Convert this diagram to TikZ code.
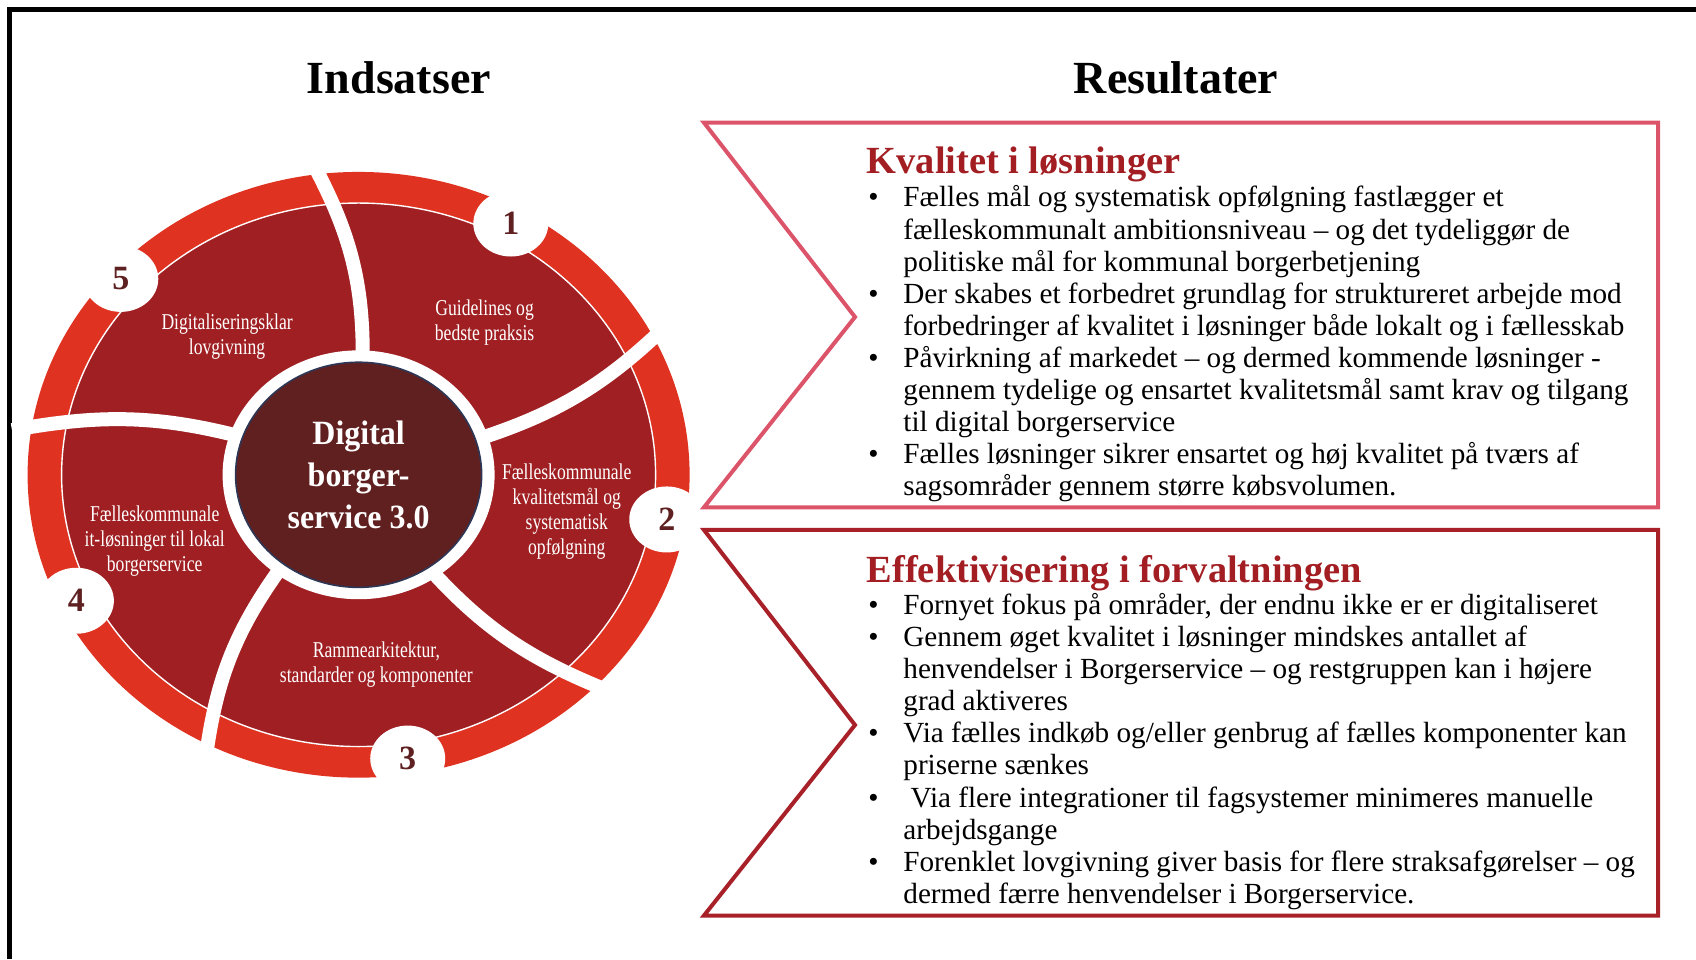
\documentclass[tikz,border=0pt]{standalone}
\usepackage{fontspec}
\setmainfont{Liberation Serif}
\newfontfamily\wheelfont[FakeStretch=0.78]{Liberation Serif}
\newfontfamily\hubfont[FakeStretch=0.94]{Liberation Serif}
\usepackage{tikz}
\usetikzlibrary{shapes.geometric,positioning}

\definecolor{ringred}{RGB}{223,50,33}
\definecolor{sectorred}{RGB}{160,31,34}
\definecolor{hubred}{RGB}{96,32,32}
\definecolor{hubedge}{RGB}{45,55,85}
\definecolor{numbrown}{RGB}{94,32,32}
\definecolor{qualityline}{RGB}{220,84,106}
\definecolor{effectline}{RGB}{168,32,40}
\definecolor{titlered}{RGB}{163,30,35}

\begin{document}
\begin{tikzpicture}[x=0.5pt,y=0.5pt]
  \tikzstyle{heading}=[font=\fontsize{23}{26}\selectfont\bfseries, inner sep=0pt, anchor=base]
  \tikzstyle{paneltitle}=[font=\fontsize{19.2}{22}\selectfont\bfseries, text=titlered, inner sep=0pt, anchor=base west]
  \tikzstyle{panelbody}=[font=\fontsize{14.6}{16.05}\selectfont, inner sep=0pt, anchor=base west]
  \tikzstyle{wheellabel}=[font=\wheelfont\fontsize{11.3}{12.45}\selectfont, text=white, align=center, inner sep=0pt]
  \tikzstyle{hub}=[font=\hubfont\fontsize{17}{21}\selectfont\bfseries, text=white, align=center, inner sep=0pt]
  \tikzstyle{numdot}=[ellipse, fill=white, minimum width=37.5pt, minimum height=33pt, inner sep=0pt, text=numbrown, font=\fontsize{17}{20}\selectfont\bfseries]
  \tikzstyle{gap}=[white, line width=7pt]
  \tikzstyle{chevron}=[line width=2pt, line join=miter]

  \useasboundingbox (0,0) rectangle (1696,959);
  \draw[line width=2.6pt] (9.5,0) -- (9.5,949.5) -- (1696,949.5);

  \node[heading] (indsatser) at (399,865) {Indsatser};
  \node[heading] (resultater) at (1176,865) {Resultater};

  % the wheel
  \begin{scope}[shift={(358.6,484.2)}, yscale=0.915]
    \fill[ringred] (0,0) circle (331);
    \fill[sectorred] (0,0) circle (297);
    \draw[white, line width=0.7pt] (0,0) circle (297);
    \foreach \a/\b in {88/98, 18/28, -56/-43, -128/-116, 160/172}
      \draw[gap] (\a:110) to[bend right=14] (\b:350);
    \fill[white] (0,0) circle (136);
    \fill[hubred] (0,0) circle (123);
    \draw[hubedge, line width=0.8pt] (0,0) circle (123);
    \node[numdot] (n1) at (61:314) {1};
    \node[numdot] (n2) at (-9:312) {2};
    \node[numdot] (n3) at (-81:314) {3};
    \node[numdot] (n4) at (-154:314) {4};
    \node[numdot] (n5) at (138:320) {5};
  \end{scope}

  \node[hub] (hubtext) at (358.6,484) {Digital\\borger-\\service 3.0};
  \node[wheellabel] (guide) at (484.6,636.1) {Guidelines og\\bedste praksis};
  \node[wheellabel] (law) at (227.1,622.6) {Digitaliseringsklar\\lovgivning};
  \node[wheellabel] (goals) at (566.8,447.4) {Fælleskommunale\\kvalitetsmål og\\systematisk\\opfølgning};
  \node[wheellabel] (itsol) at (154.7,417.7) {Fælleskommunale\\it-løsninger til lokal\\borgerservice};
  \node[wheellabel] (arch) at (376.4,294.4) {Rammearkitektur,\\standarder og komponenter};

  % result panels
  \coordinate (q-tl) at (704,836.3);
  \coordinate (q-tr) at (1658,836.3);
  \coordinate (q-br) at (1658,451.7);
  \coordinate (q-bl) at (704,451.7);
  \coordinate (q-tip) at (855,642);
  \draw[chevron, qualityline] (q-tl) -- (q-tr) -- (q-br) -- (q-bl) -- (q-tip) -- cycle;

  \coordinate (e-tl) at (704,429);
  \coordinate (e-tr) at (1658,429);
  \coordinate (e-br) at (1658,43.5);
  \coordinate (e-bl) at (704,43.5);
  \coordinate (e-tip) at (855,234);
  \draw[chevron, effectline] (e-tl) -- (e-tr) -- (e-br) -- (e-bl) -- (e-tip) -- cycle;

  \node[paneltitle] (quality) at (866.4,785) {Kvalitet i løsninger};
  \node[panelbody] (qualitylist) at (868,752) {\begin{tabular}[t]{@{}p{17.5pt}@{}l@{}}
    \textbullet & Fælles mål og systematisk opfølgning fastlægger et\\
    & fælleskommunalt ambitionsniveau – og det tydeliggør de\\
    & politiske mål for kommunal borgerbetjening\\
    \textbullet & Der skabes et forbedret grundlag for struktureret arbejde mod\\
    & forbedringer af kvalitet i løsninger både lokalt og i fællesskab\\
    \textbullet & Påvirkning af markedet – og dermed kommende løsninger -\\
    & gennem tydelige og ensartet kvalitetsmål samt krav og tilgang\\
    & til digital borgerservice\\
    \textbullet & Fælles løsninger sikrer ensartet og høj kvalitet på tværs af\\
    & sagsområder gennem større købsvolumen.
  \end{tabular}};

  \node[paneltitle] (effect) at (866.4,376) {Effektivisering i forvaltningen};
  \node[panelbody] (effectlist) at (868,344.5) {\begin{tabular}[t]{@{}p{17.5pt}@{}l@{}}
    \textbullet & Fornyet fokus på områder, der endnu ikke er er digitaliseret\\
    \textbullet & Gennem øget kvalitet i løsninger mindskes antallet af\\
    & henvendelser i Borgerservice – og restgruppen kan i højere\\
    & grad aktiveres\\
    \textbullet & Via fælles indkøb og/eller genbrug af fælles komponenter kan\\
    & priserne sænkes\\
    \textbullet & \ Via flere integrationer til fagsystemer minimeres manuelle\\
    & arbejdsgange\\
    \textbullet & Forenklet lovgivning giver basis for flere straksafgørelser – og\\
    & dermed færre henvendelser i Borgerservice.
  \end{tabular}};
\end{tikzpicture}
\end{document}
